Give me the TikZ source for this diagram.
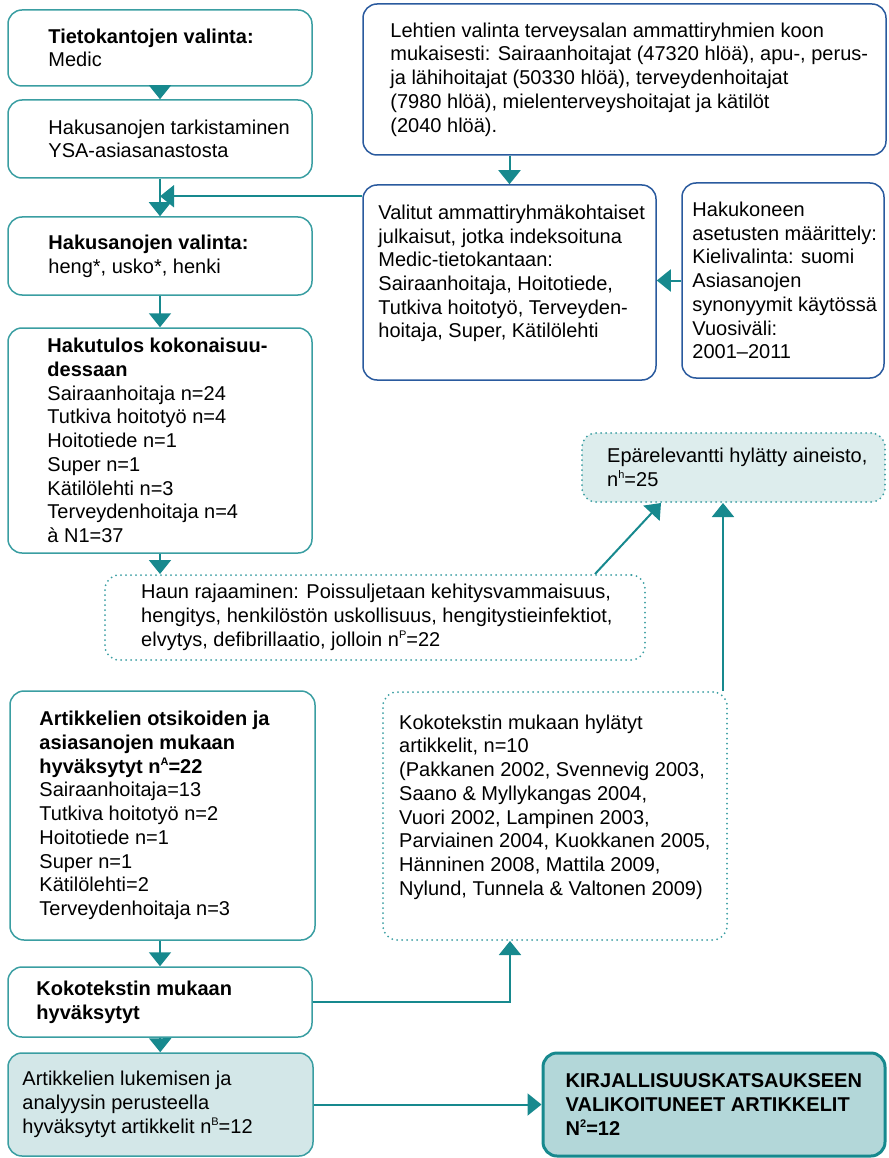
\documentclass[tikz,border=0pt]{standalone}
\usepackage{fontspec}
\setmainfont{Liberation Sans}
\usetikzlibrary{positioning,arrows.meta}
\definecolor{nuoli}{HTML}{17898E}
\definecolor{reuna}{HTML}{3A9EA2}
\definecolor{sininen}{HTML}{2A5A9E}
\definecolor{vaalea}{HTML}{DDEDED}
\definecolor{keski}{HTML}{D3E7E8}
\definecolor{tumma}{HTML}{B3D7D9}
\newcommand{\yla}[1]{\raisebox{0.75ex}{\fontsize{11}{11}\selectfont #1}}
\begin{document}
\begin{tikzpicture}[x=1pt,y=-1pt,
  box/.style={draw=reuna,line width=1.5pt,rounded corners=14pt,inner sep=0pt},
  bluebox/.style={box,draw=sininen},
  dotbox/.style={box,line width=2pt,line cap=round,dash pattern=on 0pt off 5pt},
  txt/.style={align=left,inner sep=0pt,font=\fontsize{20}{23.7}\selectfont},
  arr/.style={draw=nuoli,line width=2pt,-{Triangle[width=22pt,length=14pt]}}]
\useasboundingbox (0,0) rectangle (888,1158);

% vasen sarake
\node(valinta) at (160,48)[box,minimum width=304pt,minimum height=76pt]{};
\node(tarkistus) at (160,139)[box,minimum width=304pt,minimum height=78pt]{};
\node(hakusanat) at (160,256)[box,minimum width=304pt,minimum height=78pt]{};
\node(hakutulos) at (160,440.5)[box,minimum width=304pt,minimum height=225pt]{};
\node(rajaus) at (375,617.5)[dotbox,minimum width=540pt,minimum height=85pt]{};
\node(otsikot) at (162.5,815.5)[box,minimum width=305pt,minimum height=249pt]{};
\node(kokoteksti) at (160,1002)[box,minimum width=304pt,minimum height=70pt]{};
\node(lukeminen) at (160.5,1104.5)[box,fill=keski,minimum width=305pt,minimum height=103pt]{};

% oikea puoli
\node(lehdet) at (624.5,79.5)[bluebox,minimum width=523pt,minimum height=151pt]{};
\node(julkaisut) at (509.5,282.5)[bluebox,minimum width=293pt,minimum height=195pt]{};
\node(asetukset) at (783,280.5)[bluebox,minimum width=202pt,minimum height=195pt]{};
\node(hylatty) at (733.5,467.5)[dotbox,fill=vaalea,minimum width=303pt,minimum height=69pt]{};
\node(hylatyt) at (555,816)[dotbox,minimum width=344pt,minimum height=248pt]{};
\node(lopullinen) at (714,1104.5)[box,fill=tumma,draw=nuoli,line width=3pt,minimum width=342pt,minimum height=103pt]{};

% tekstit
\node(t-valinta) [txt,right=41pt of valinta.west]{\textbf{Tietokantojen valinta:}\\Medic};
\node(t-tarkistus) [txt,right=41pt of tarkistus.west]{Hakusanojen tarkistaminen\\YSA-asiasanastosta};
\node(t-hakusanat) [txt,right=41pt of hakusanat.west]{\textbf{Hakusanojen valinta:}\\heng*, usko*, henki};
\node(t-hakutulos) [txt,right=40pt of hakutulos.west]{\textbf{Hakutulos kokonaisuu-}\\\textbf{dessaan}\\
  Sairaanhoitaja n=24\\Tutkiva hoitotyö n=4\\Hoitotiede n=1\\Super n=1\\
  Kätilölehti n=3\\Terveydenhoitaja n=4\\à N1=37};
\node(t-rajaus) [txt,right=37pt of rajaus.west]{Haun rajaaminen: Poissuljetaan kehitysvammaisuus,\\
  hengitys, henkilöstön uskollisuus, hengitystieinfektiot,\\
  elvytys, defibrillaatio, jolloin n\yla{P}=22};
\node(t-otsikot) [txt,right=30pt of otsikot.west]{\textbf{Artikkelien otsikoiden ja}\\
  \textbf{asiasanojen mukaan}\\\textbf{hyväksytyt n\yla{A}=22}\\
  Sairaanhoitaja=13\\Tutkiva hoitotyö n=2\\Hoitotiede n=1\\Super n=1\\
  Kätilölehti=2\\Terveydenhoitaja n=3};
\node(t-kokoteksti) [txt,right=29pt of kokoteksti.west]{\textbf{Kokotekstin mukaan}\\\textbf{hyväksytyt}};
\node(t-lukeminen) [txt,right=15pt of lukeminen.west]{Artikkelien lukemisen ja\\
  analyysin perusteella\\hyväksytyt artikkelit n\yla{B}=12};
\node(t-lehdet) [txt,right=28pt of lehdet.west]{Lehtien valinta terveysalan ammattiryhmien koon\\
  mukaisesti: Sairaanhoitajat (47320 hlöä), apu-, perus-\\
  ja lähihoitajat (50330 hlöä), terveydenhoitajat\\
  (7980 hlöä), mielenterveyshoitajat ja kätilöt\\(2040 hlöä).};
\node(t-julkaisut) [txt,right=16pt of julkaisut.west,yshift=9pt]{Valitut ammattiryhmäkohtaiset\\
  julkaisut, jotka indeksoituna\\Medic-tietokantaan:\\
  Sairaanhoitaja, Hoitotiede,\\Tutkiva hoitotyö, Terveyden-\\hoitaja, Super, Kätilölehti};
\node(t-asetukset) [txt,right=11pt of asetukset.west]{Hakukoneen\\asetusten määrittely:\\
  Kielivalinta: suomi\\Asiasanojen\\synonyymit käytössä\\Vuosiväli:\\2001–2011};
\node(t-hylatty) [txt,right=26pt of hylatty.west]{Epärelevantti hylätty aineisto,\\n\yla{h}=25};
\node(t-hylatyt) [txt,right=17pt of hylatyt.west,yshift=9pt]{Kokotekstin mukaan hylätyt\\
  artikkelit, n=10\\(Pakkanen 2002, Svennevig 2003,\\Saano \& Myllykangas 2004,\\
  Vuori 2002, Lampinen 2003,\\Parviainen 2004, Kuokkanen 2005,\\
  Hänninen 2008, Mattila 2009,\\Nylund, Tunnela \& Valtonen 2009)};
\node(t-lopullinen) [txt,right=24pt of lopullinen.west]{\textbf{KIRJALLISUUSKATSAUKSEEN}\\
  \textbf{VALIKOITUNEET ARTIKKELIT}\\\textbf{N\yla{2}=12}};

\coordinate(liitos) at ([yshift=-12pt]julkaisut.north west);
\coordinate(nousu) at ([xshift=-5pt]hylatyt.north east);

\draw[arr] (valinta) -- (tarkistus);
\draw[arr] (tarkistus) -- (hakusanat);
\draw[arr] (liitos) -- (tarkistus.south |- liitos);
\draw[arr] (hakusanat) -- (hakutulos);
\draw[arr] (hakutulos.south) -- (hakutulos.south |- rajaus.north);
\draw[arr] ([xshift=-51pt]rajaus.north east) -- ([xshift=80pt]hylatty.south west);
\draw[arr] (nousu) -- (nousu |- hylatty.south);
\draw[arr] (kokoteksti.north |- otsikot.south) -- (kokoteksti.north);
\draw[arr] (kokoteksti.east) -| ([xshift=-45pt]hylatyt.south);
\draw[arr] (kokoteksti) -- (lukeminen);
\draw[arr] (lukeminen) -- (lopullinen);
\draw[arr] (lehdet.south -| julkaisut.north) -- (julkaisut.north);
\draw[arr] (asetukset.west) -- (asetukset.west -| julkaisut.east);
\end{tikzpicture}
\end{document}
